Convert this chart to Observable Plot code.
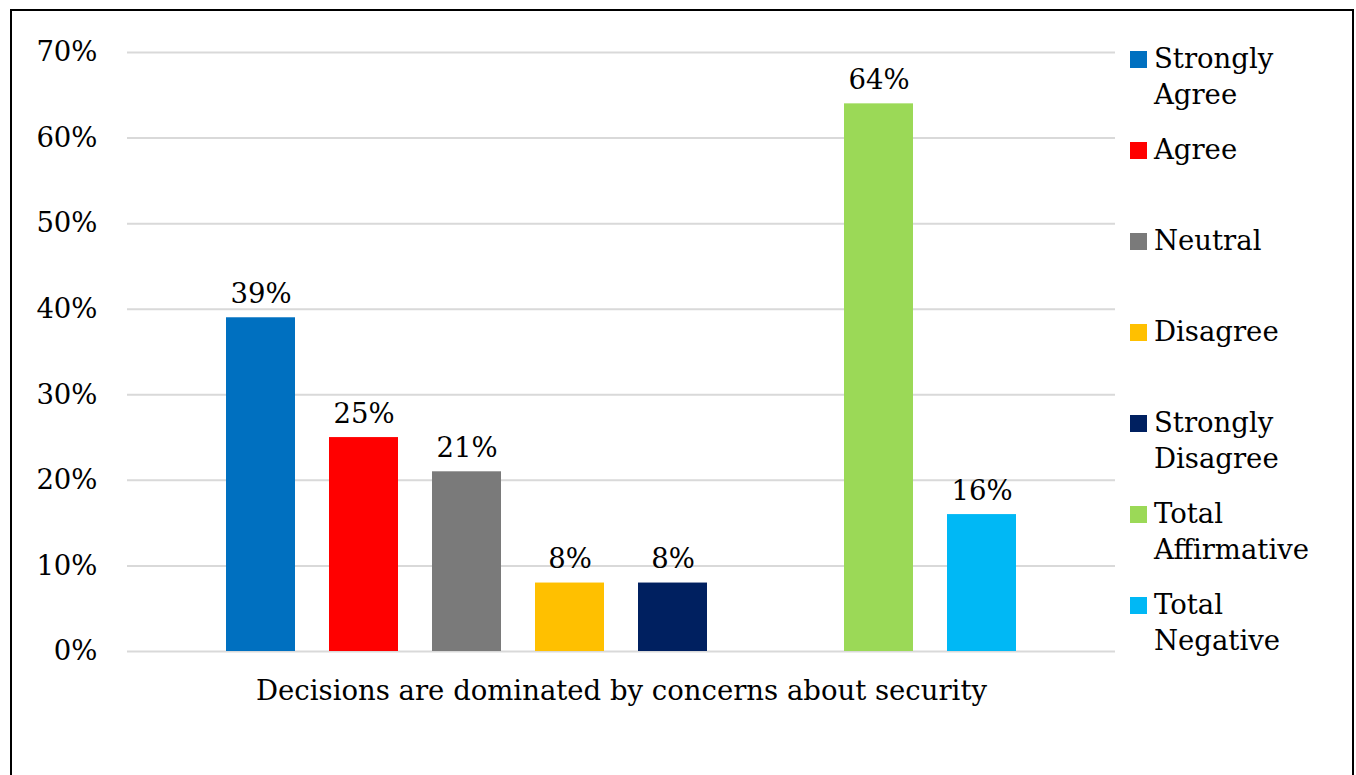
<!DOCTYPE html>
<html>
<head>
<meta charset="utf-8">
<script src="https://cdn.jsdelivr.net/npm/d3@7"></script>
<script src="https://cdn.jsdelivr.net/npm/@observablehq/plot@0.6"></script>
<style>
  html, body { margin: 0; padding: 0; background: #fff; }
  body { width: 1356px; height: 775px; position: relative; overflow: hidden; font-family: "DejaVu Serif", serif; }
  #frame { position: absolute; left: 10px; top: 9px; width: 1344px; height: 820px; border: 2px solid #000; box-sizing: border-box; }
  #chart { position: absolute; left: 0; top: 0; }
  #legend { position: absolute; left: 1130px; top: 40px; }
  .item { display: flex; align-items: flex-start; height: 91px; }
  .sw { width: 17px; height: 17px; margin-top: 11px; margin-right: 7px; flex: none; }
  .lab { font-size: 27.5px; line-height: 36px; color: #000; }
</style>
</head>
<body>
<div id="frame"></div>
<div id="chart"></div>
<div id="legend"></div>
<script>
const categories = ["Strongly Agree", "Agree", "Neutral", "Disagree", "Strongly Disagree", "Total Affirmative", "Total Negative"];
const legendLines = [["Strongly", "Agree"], ["Agree"], ["Neutral"], ["Disagree"], ["Strongly", "Disagree"], ["Total", "Affirmative"], ["Total", "Negative"]];
const values = [0.39, 0.25, 0.21, 0.08, 0.08, 0.64, 0.16];
const colors = ["#0070C0", "#FF0000", "#7A7A7A", "#FFC000", "#002060", "#9BD957", "#00B8F5"];
const gapKey = " ";
const xDomain = ["Strongly Agree", "Agree", "Neutral", "Disagree", "Strongly Disagree", gapKey, "Total Affirmative", "Total Negative"];
const yTicks = [0, 0.1, 0.2, 0.3, 0.4, 0.5, 0.6, 0.7];
const xLabel = "Decisions are dominated by concerns about security";

const data = categories.map((c, i) => ({cat: c, value: values[i]}));
const pct = d3.format(".0%");

const chart = Plot.plot({
  width: 1356,
  height: 775,
  marginLeft: 127,
  marginRight: 241,
  marginTop: 52,
  marginBottom: 124,
  style: {fontFamily: "DejaVu Serif, serif", fontSize: "27.5px", color: "#000", background: "transparent", overflow: "visible"},
  x: {type: "band", domain: xDomain, paddingInner: 0.33, paddingOuter: 0.961, axis: null},
  y: {domain: [0, 0.7], axis: null},
  color: {domain: categories, range: colors},
  marks: [
    Plot.ruleY(yTicks, {stroke: "#d9d9d9", strokeWidth: 2}),
    Plot.axisY({ticks: yTicks, tickFormat: pct, tickSize: 0, tickPadding: 30, label: null, fontSize: 27.5}),
    Plot.barY(data, {x: "cat", y: "value", fill: "cat"}),
    Plot.text(data, {x: "cat", y: "value", text: d => pct(d.value), lineAnchor: "bottom", dy: -15, fontSize: 27.5, fill: "#000"}),
    Plot.text([xLabel], {frameAnchor: "bottom", text: d => d, lineAnchor: "bottom", dy: 48, fontSize: 27.5, fill: "#000"})
  ]
});
document.getElementById("chart").appendChild(chart);

const legend = document.getElementById("legend");
categories.forEach((c, i) => {
  const item = document.createElement("div");
  item.className = "item";
  const sw = document.createElement("div");
  sw.className = "sw";
  sw.style.background = colors[i];
  const lab = document.createElement("div");
  lab.className = "lab";
  lab.innerHTML = legendLines[i].join("<br>");
  item.appendChild(sw);
  item.appendChild(lab);
  legend.appendChild(item);
});
</script>
</body>
</html>
